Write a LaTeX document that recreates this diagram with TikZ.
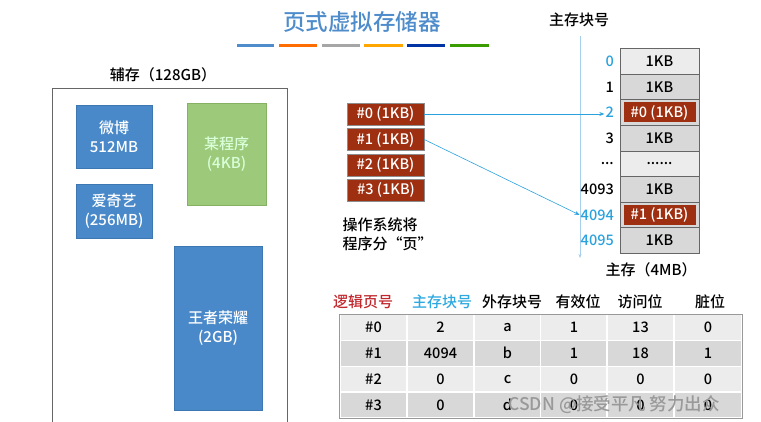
\documentclass[tikz,border=0pt]{standalone}
\usepackage{fontspec}
\setmainfont{Noto Sans CJK SC Medium}
\usepackage{xcolor,tikz}
\usetikzlibrary{arrows.meta}
\definecolor{titleblue}{HTML}{4E8CCB}
\definecolor{blkblue}{HTML}{4A89C9}
\definecolor{blkedge}{HTML}{3D77B2}
\definecolor{prggreen}{HTML}{9DC97B}
\definecolor{prgedge}{HTML}{86B064}
\definecolor{pagered}{HTML}{9E2F10}
\definecolor{linkblue}{HTML}{2AA2DE}
\definecolor{axisblue}{HTML}{A5CFEA}
\definecolor{hdrred}{HTML}{C0282D}
\definecolor{hdrblue}{HTML}{2EA8DF}
\definecolor{cellhi}{HTML}{ECECEC}
\definecolor{celllo}{HTML}{D8D8D8}

\begin{document}
\begin{tikzpicture}[x=1pt,y=-1pt,font=\fontsize{14.5}{16}\selectfont,
blk/.style={draw=blkedge,fill=blkblue,text=white,align=center,inner sep=0pt,font=\fontsize{15}{19}\selectfont},
page/.style={draw=black!45,fill=pagered,text=white,minimum width=77,minimum height=22,inner sep=0pt},
mem/.style={draw=black!60,fill=celllo,minimum width=79,minimum height=25.6,inner sep=0pt},
memred/.style={fill=pagered,text=white,minimum width=72,minimum height=20,inner sep=0pt},
num/.style={anchor=east,inner sep=1pt},
tcell/.style={draw=white,line width=1.2pt,fill=cellhi,minimum width=67,minimum height=25.8,inner sep=0pt},
hdr/.style={font=\fontsize{15}{19}\selectfont},
arr/.style={-{Stealth[length=5pt,width=4pt]},linkblue,semithick}]
\useasboundingbox (0,0) rectangle (761,422);
% title and colour bars
\node[font=\fontsize{22.5}{26}\selectfont,text=titleblue] (title) at (362,22) {页式虚拟存储器};
\fill[titleblue] (237,44.5) rectangle (274,47.5);
\fill[orange!85!red] (279,44.5) rectangle (317,47.5);
\fill[black!35] (322,44.5) rectangle (360,47.5);
\fill[orange!70!yellow] (364,44.5) rectangle (403,47.5);
\fill[blue!55!black!80!cyan] (407,44.5) rectangle (445,47.5);
\fill[green!45!black!70!lime] (450,44.5) rectangle (489,47.5);

% secondary storage
\node[hdr] (auxlab) at (163,75) {辅存（128GB）};
\draw[black!60,semithick] (52,422) |- (287,88) -- (287,422);
\node[blk,minimum width=76,minimum height=63] (weibo) at (114,136.5) {微博\\512MB};
\node[blk,minimum width=76,minimum height=54] (iqiyi) at (114,211) {爱奇艺\\(256MB)};
\node[blk,draw=prgedge,fill=prggreen,text=white!85!green,minimum width=79,minimum height=102] (prog) at (226.5,154) {某程序\\(4KB)};
\node[blk,minimum width=88,minimum height=164] (wzry) at (218,328) {王者荣耀\\(2GB)};

% program pages
\node[page] (p0) at (385.5,114) {\#0 (1KB)};
\node[page] (p1) at (385.5,139.5) {\#1 (1KB)};
\node[page] (p2) at (385.5,165) {\#2 (1KB)};
\node[page] (p3) at (386,190) {\#3 (1KB)};
\node[hdr,align=left,anchor=north west] (note) at (339,214) {操作系统将\\程序分“页”};

% main memory
\node[hdr] (memhdr) at (579,20) {主存块号};
\coordinate (axtop) at (580,36);
\coordinate (axbot) at (580,258);
\draw[axisblue,-{Stealth[length=4pt,width=3pt]}] (axtop) -- (axbot);
\node[mem,fill=cellhi] (m0) at (659.5,61.3) {1KB};
\node[mem] (m1) at (659.5,86.9) {1KB};
\node[mem] (m2) at (659.5,112.5) {};
\node[memred] (m2p) at (m2) {\#0 (1KB)};
\node[mem] (m3) at (659.5,138.1) {1KB};
\node[mem,fill=cellhi] (m4) at (659.5,163.7) {......};
\node[mem] (m5) at (659.5,189.3) {1KB};
\node[mem] (m6) at (659.5,214.9) {};
\node[memred] (m6p) at (m6) {\#1 (1KB)};
\node[mem] (m7) at (659.5,240.5) {1KB};
\node[num,text=linkblue] (n0) at (615,61.3) {0};
\node[num] (n1) at (615,86.9) {1};
\node[num,text=linkblue] (n2) at (615,112.5) {2};
\node[num] (n3) at (615,138.1) {3};
\node[num] (ndots) at (615,163.7) {...};
\node[num] (n4093) at (615,189.3) {4093};
\node[num,text=linkblue] (n4094) at (615,214.9) {4094};
\node[num,text=linkblue] (n4095) at (615,240.5) {4095};
\node[hdr] (memlab) at (651,270) {主存（4MB）};
\draw[arr] (p0.east) -- (p0.east -| n2.west);
\draw[arr] (p1.east) -- (n4094.west);

% page table
\node[hdr,text=hdrred] (h1) at (363,302) {逻辑页号};
\node[hdr,text=hdrblue] (h2) at (442,302) {主存块号};
\node[hdr] (h3) at (512,302) {外存块号};
\node[hdr] (h4) at (578,302) {有效位};
\node[hdr] (h5) at (640,302) {访问位};
\node[hdr] (h6) at (710,302) {脏位};
\node[tcell] (a1) at (373.5,327.5) {\#0}; \node[tcell] (a2) at (440.5,327.5) {2}; \node[tcell] (a3) at (507.5,327.5) {a}; \node[tcell] (a4) at (574,327.5) {1}; \node[tcell] (a5) at (640.5,327.5) {13}; \node[tcell,minimum width=68] (a6) at (708,327.5) {0};
\node[tcell,fill=celllo] (b1) at (373.5,353.3) {\#1}; \node[tcell,fill=celllo] (b2) at (440.5,353.3) {4094}; \node[tcell,fill=celllo] (b3) at (507.5,353.3) {b}; \node[tcell,fill=celllo] (b4) at (574,353.3) {1}; \node[tcell,fill=celllo] (b5) at (640.5,353.3) {18}; \node[tcell,fill=celllo,minimum width=68] (b6) at (708,353.3) {1};
\node[tcell] (c1) at (373.5,379.1) {\#2}; \node[tcell] (c2) at (440.5,379.1) {0}; \node[tcell] (c3) at (507.5,379.1) {c}; \node[tcell] (c4) at (574,379.1) {0}; \node[tcell] (c5) at (640.5,379.1) {0}; \node[tcell,minimum width=68] (c6) at (708,379.1) {0};
\node[tcell,fill=celllo] (d1) at (373.5,404.9) {\#3}; \node[tcell,fill=celllo] (d2) at (440.5,404.9) {0}; \node[tcell,fill=celllo] (d3) at (507.5,404.9) {d}; \node[tcell,fill=celllo] (d4) at (574,404.9) {0}; \node[tcell,fill=celllo] (d5) at (640.5,404.9) {0}; \node[tcell,fill=celllo,minimum width=68] (d6) at (708,404.9) {0};
\draw[black!40] (a1.north west) rectangle (d6.south east);
\node[anchor=west,text=black!40,font=\fontsize{17.5}{20}\selectfont] (wmark) at (505,405) {CSDN @接受平凡 努力出众};
\end{tikzpicture}
\end{document}
